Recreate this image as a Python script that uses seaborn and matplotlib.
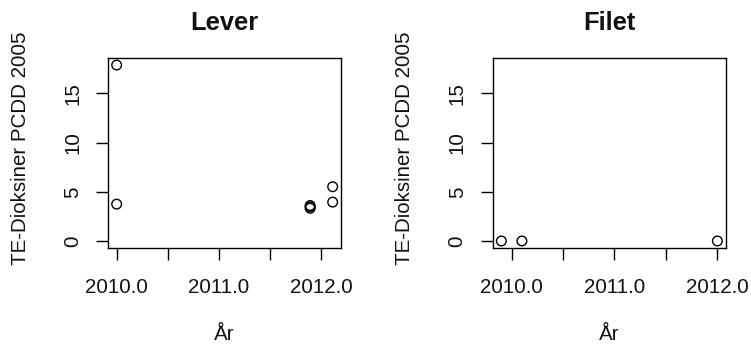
import numpy as np
import pandas as pd
import matplotlib
matplotlib.use("Agg")
import matplotlib.pyplot as plt
import seaborn as sns

# Dioxin TE values (PCDD, TEF 2005) per sampling year, liver and fillet
lever_year = [2010.0, 2010.0, 2011.89, 2011.89, 2011.89, 2012.11, 2012.11]
lever_value = [17.85, 3.77, 3.63, 3.5, 3.35, 5.53, 3.97]
filet_year = [2009.9, 2010.1, 2012.0]
filet_value = [0.04, 0.04, 0.04]

panel_titles = ["Lever", "Filet"]
x_label = "År"
y_label = "TE-Dioksiner PCDD 2005"
x_ticks = [2010.0, 2010.5, 2011.0, 2011.5, 2012.0]
x_tick_labels = ["2010.0", "", "2011.0", "", "2012.0"]
y_ticks = [0, 5, 10, 15]
y_tick_labels = ["0", "5", "10", "15"]

sns.set_style("white")
plt.rcParams["font.family"] = ["Liberation Sans", "DejaVu Sans"]

DPI = 100
W, H = 751, 349
PX = 72.0 / DPI  # points per pixel

fig = plt.figure(figsize=(W / DPI, H / DPI), dpi=DPI)
fig.patch.set_facecolor("white")


def pad_range(vals, frac=0.04):
    lo, hi = min(vals), max(vals)
    d = (hi - lo) * frac
    return lo - d, hi + d


ylim = pad_range(lever_value + filet_value)

panels = [
    (pd.DataFrame({"year": lever_year, "value": lever_value}), 108),
    (pd.DataFrame({"year": filet_year, "value": filet_value}), 492.7),
]

AX_W, AX_H = 233.3, 190
TEXT_PX = 20.5

for (df, left_px), title in zip(panels, panel_titles):
    ax = fig.add_axes([left_px / W, 1 - 248 / H, AX_W / W, AX_H / H])
    sns.scatterplot(data=df, x="year", y="value", ax=ax,
                    s=48, facecolor="none", edgecolor="black",
                    linewidth=1.0, zorder=3, clip_on=False)
    ax.set_xlim(*pad_range(list(df["year"])))
    ax.set_ylim(*ylim)

    ax.set_xticks(x_ticks)
    ax.set_xticklabels(x_tick_labels)
    ax.set_yticks(y_ticks)
    ax.set_yticklabels(y_tick_labels, rotation=90, va="center")

    for sp in ax.spines.values():
        sp.set_visible(True)
        sp.set_color("black")
        sp.set_linewidth(1.0)

    ax.tick_params(axis="both", which="both", direction="out",
                   length=12 * PX, width=1.0, color="black",
                   labelsize=TEXT_PX * PX, labelcolor="#111111")
    ax.tick_params(axis="x", pad=18 * PX, bottom=True)
    ax.tick_params(axis="y", pad=14 * PX, left=True)

    ax.set_title(title, fontsize=25.5 * PX, fontweight="bold",
                 pad=28 * PX, color="#111111")
    ax.set_xlabel(x_label, fontsize=TEXT_PX * PX, color="#111111")
    ax.set_ylabel(y_label, fontsize=TEXT_PX * PX, color="#111111")
    ax.xaxis.set_label_coords(0.5, -(335 - 248) / AX_H, transform=ax.transAxes)
    ax.yaxis.set_label_coords(-88 / AX_W, (248 - 148) / AX_H,
                              transform=ax.transAxes)
    ax.xaxis.label.set_va("center")
    ax.yaxis.label.set_va("center")
    ax.yaxis.label.set_ha("center")
    ax.grid(False)

fig.savefig("out.png", dpi=DPI, facecolor="white")
